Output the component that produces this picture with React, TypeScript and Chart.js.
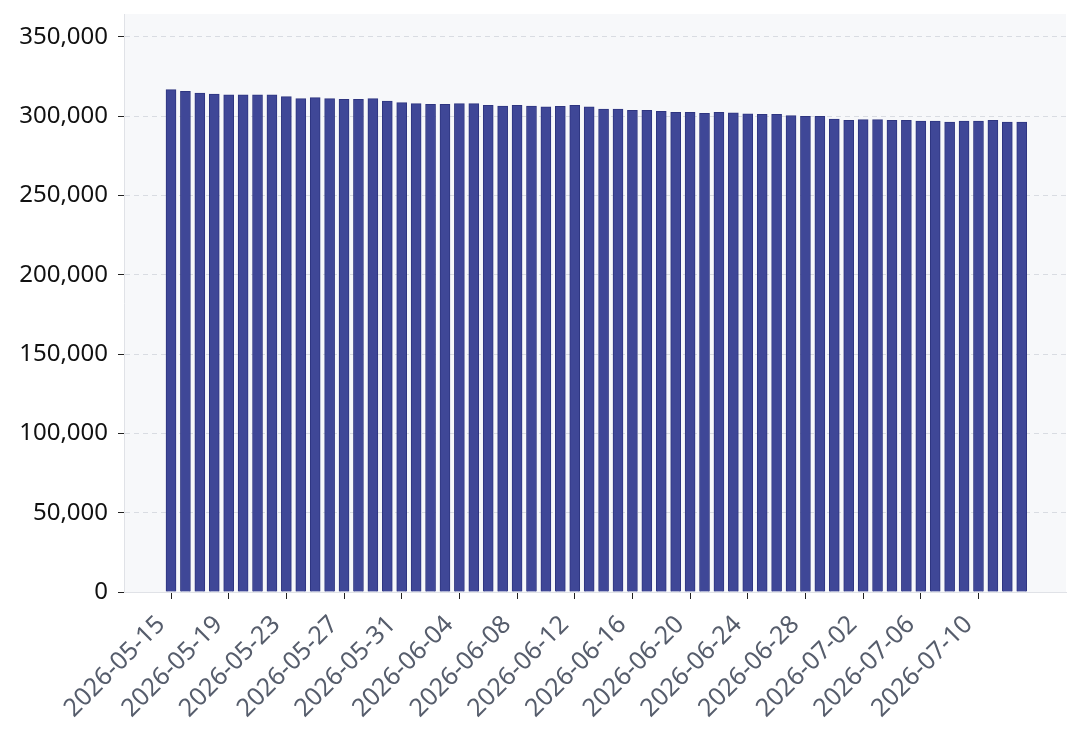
import { useEffect, useRef } from "react";
import { Chart, registerables } from "chart.js";

Chart.register(...registerables);

const dates = [
  "2026-05-15", "2026-05-16", "2026-05-17", "2026-05-18", "2026-05-19", "2026-05-20",
  "2026-05-21", "2026-05-22", "2026-05-23", "2026-05-24", "2026-05-25", "2026-05-26",
  "2026-05-27", "2026-05-28", "2026-05-29", "2026-05-30", "2026-05-31", "2026-06-01",
  "2026-06-02", "2026-06-03", "2026-06-04", "2026-06-05", "2026-06-06", "2026-06-07",
  "2026-06-08", "2026-06-09", "2026-06-10", "2026-06-11", "2026-06-12", "2026-06-13",
  "2026-06-14", "2026-06-15", "2026-06-16", "2026-06-17", "2026-06-18", "2026-06-19",
  "2026-06-20", "2026-06-21", "2026-06-22", "2026-06-23", "2026-06-24", "2026-06-25",
  "2026-06-26", "2026-06-27", "2026-06-28", "2026-06-29", "2026-06-30", "2026-07-01",
  "2026-07-02", "2026-07-03", "2026-07-04", "2026-07-05", "2026-07-06", "2026-07-07",
  "2026-07-08", "2026-07-09", "2026-07-10", "2026-07-11", "2026-07-12", "2026-07-13",
];

const values = [
  316800, 315700, 314700, 314000, 313600, 313600, 313600, 313600, 312400, 311100,
  311800, 311100, 310700, 310700, 311100, 309600, 308600, 308000, 307600, 307600,
  308000, 308000, 306900, 306500, 306900, 306500, 305900, 306300, 306900, 306000,
  304600, 304600, 303800, 303800, 303200, 302500, 302500, 301900, 302500, 302100,
  301500, 301300, 301300, 300400, 300000, 300000, 298300, 297500, 297900, 297900,
  297500, 297500, 296900, 296900, 296400, 296900, 296900, 297500, 296400, 296400,
];

const yTicks = [0, 50000, 100000, 150000, 200000, 250000, 300000, 350000];
const xTickEvery = 4;

const plotBg = {
  id: "plotBg",
  beforeDraw(chart) {
    const { ctx, chartArea } = chart;
    ctx.save();
    ctx.fillStyle = "#f7f8fa";
    ctx.fillRect(chartArea.left, chartArea.top, chartArea.right - chartArea.left, chartArea.bottom - chartArea.top);
    ctx.restore();
  },
};

export default function App() {
  const chartRef = useRef(null);
  const chartInstance = useRef(null);

  useEffect(() => {
    document.body.style.margin = "0";
    const ctx = chartRef.current?.getContext("2d");
    chartInstance.current = new Chart(ctx, {
      type: "bar",
      data: {
        datasets: [
          {
            data: values.map((v, i) => ({ x: i, y: v })),
            backgroundColor: "#3f4797",
            borderColor: "#2e3580",
            borderWidth: 1,
            barThickness: 10,
          },
        ],
      },
      plugins: [plotBg],
      options: {
        responsive: false,
        animation: false,
        layout: { padding: { top: 14, right: 14, left: 0, bottom: 0 } },
        plugins: {
          legend: { display: false },
          tooltip: { enabled: false },
        },
        scales: {
          x: {
            type: "linear",
            offset: false,
            min: -3.26,
            max: 62.07,
            afterBuildTicks: (scale) => {
              scale.ticks = dates
                .map((d, i) => i)
                .filter((i) => i % xTickEvery === 0)
                .map((i) => ({ value: i }));
            },
            afterFit: (scale) => {
              scale.height = 143;
              scale.paddingLeft = 0;
              scale.paddingRight = 0;
            },
            ticks: {
              autoSkip: false,
              maxRotation: 45,
              minRotation: 45,
              padding: 11,
              labelOffset: -10,
              color: "#565d6c",
              font: { family: "'Noto Sans', 'Open Sans', sans-serif", size: 25 },
              callback: (v) => dates[v] ?? "",
            },
            grid: {
              offset: false,
              drawOnChartArea: false,
              tickLength: 7,
              tickColor: "#222",
            },
            border: { color: "#e0e2e7", width: 1 },
          },
          y: {
            min: 0,
            max: 364500,
            afterBuildTicks: (scale) => {
              scale.ticks = yTicks.map((v) => ({ value: v }));
            },
            afterFit: (scale) => {
              scale.width = 124;
              scale.paddingTop = 0;
              scale.paddingBottom = 0;
            },
            ticks: {
              padding: 10,
              color: "#111111",
              font: { family: "'Noto Sans', 'Open Sans', sans-serif", size: 24 },
              callback: (v) => Number(v).toLocaleString("en-US"),
            },
            grid: {
              color: "#d9dce2",
              tickColor: "#222",
              tickLength: 6,
            },
            border: { color: "#e0e2e7", width: 1, dash: [5, 4] },
          },
        },
      },
    });

    return () => {
      chartInstance.current.destroy();
    };
  }, []);

  return (
    <div style={{ width: 1080, height: 735 }}>
      <canvas ref={chartRef} width={1080} height={735} />
    </div>
  );
}
